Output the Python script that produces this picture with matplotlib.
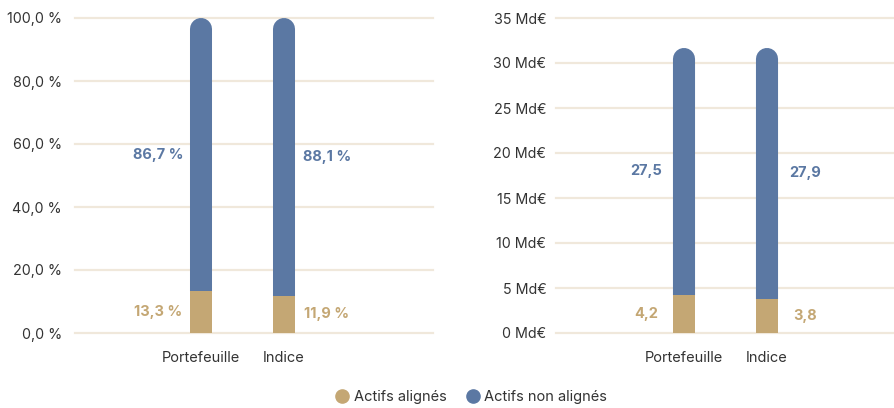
import matplotlib
matplotlib.use("Agg")
import matplotlib.pyplot as plt
from matplotlib.lines import Line2D

plt.rcParams["font.family"] = ["Inter", "DejaVu Sans"]

categories = ["Portefeuille", "Indice"]
pct_aligned = [13.3, 11.9]
pct_non_aligned = [86.7, 88.1]
amt_aligned = [4.2, 3.8]
amt_non_aligned = [27.5, 27.9]

pct_ticks = [0, 20, 40, 60, 80, 100]
pct_ticklabels = ["0,0 %", "20,0 %", "40,0 %", "60,0 %", "80,0 %", "100,0 %"]
amt_ticks = [0, 5, 10, 15, 20, 25, 30, 35]
amt_ticklabels = [f"{t} Md€" for t in amt_ticks]

GOLD = "#c4a774"
BLUE = "#5b78a3"
GRID = "#f0e8db"
TXT = "#333333"

W, H = 895, 408
fig = plt.figure(figsize=(W / 100, H / 100), dpi=100)


def px_axes(x0, x1, y_top, y_bot):
    return fig.add_axes([x0 / W, 1 - y_bot / H, (x1 - x0) / W, (y_bot - y_top) / H])


def draw_panel(ax, aligned, non_aligned, ticks, ticklabels, xlim, ymax, fmt, lab_dx, tick_pad):
    ax.set_xlim(*xlim)
    ax.set_ylim(0, ymax)
    for s in ax.spines.values():
        s.set_visible(False)
    for t in ticks:
        ax.axhline(t, color=GRID, lw=1.6, zorder=0, clip_on=False)
    ax.set_yticks(ticks)
    ax.set_yticklabels(ticklabels, fontsize=10.3, color=TXT)
    ax.tick_params(axis="y", length=0, pad=tick_pad)
    ax.set_xticks(range(len(categories)))
    ax.set_xticklabels(categories, fontsize=10.5, color=TXT)
    ax.tick_params(axis="x", length=0, pad=13)

    w = 0.273
    p0 = ax.transData.transform((0, 0))
    p1 = ax.transData.transform((1, 1))
    px_x, px_y = p1[0] - p0[0], p1[1] - p0[1]
    bar_px = w * px_x - 0.6
    ry = (bar_px / 2) / px_y  # cap radius in y data units

    for i in range(len(categories)):
        tot = aligned[i] + non_aligned[i]
        # blue column with a round top (thick line, round cap)
        ax.plot([i, i], [aligned[i], tot - ry], color=BLUE, lw=bar_px * 72 / 100,
                solid_capstyle="round", zorder=2)
        ax.bar(i, aligned[i], width=w, color=GOLD, zorder=3)
        side = -1 if i == 0 else 1
        ax.text(i + side * lab_dx, aligned[i] / 2, fmt(aligned[i]), color=GOLD,
                ha="center", va="center", fontsize=10.5, fontweight="bold")
        ax.text(i + side * lab_dx, aligned[i] + non_aligned[i] / 2, fmt(non_aligned[i]), color=BLUE,
                ha="center", va="center", fontsize=10.5, fontweight="bold")


ax1 = px_axes(75, 433, 18, 333)
draw_panel(ax1, pct_aligned, pct_non_aligned, pct_ticks, pct_ticklabels,
           (-1.52, 2.80), 100, lambda v: f"{v:.1f}".replace(".", ",") + " %", 0.52, 9.5)

ax2 = px_axes(556, 895, 18, 333)
draw_panel(ax2, amt_aligned, amt_non_aligned, amt_ticks, amt_ticklabels,
           (-1.54, 2.54), 35, lambda v: f"{v:.1f}".replace(".", ","), 0.46, 7)

handles = [
    Line2D([], [], marker="o", ls="", color=GOLD, markersize=9.5),
    Line2D([], [], marker="o", ls="", color=BLUE, markersize=9.5),
]
fig.legend(handles, ["Actifs alignés", "Actifs non alignés"], loc="center",
           bbox_to_anchor=(471 / W, 1 - 397 / H), ncol=2, frameon=False,
           fontsize=10.5, handletextpad=0.3, columnspacing=1.3, labelcolor=TXT,
           handlelength=1.0, borderpad=0.2)

fig.savefig("out.png", dpi=100)
